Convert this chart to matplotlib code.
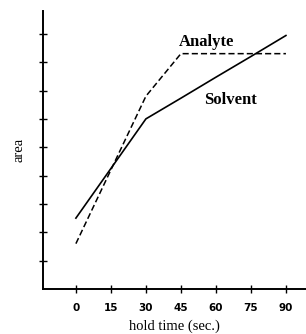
import matplotlib.pyplot as plt

# hold time (sec.)
hold_time = [0, 15, 30, 45, 60, 75, 90]
# peak area (arbitrary units)
analyte = [1.6, 4.2, 6.8, 8.3, 8.3, 8.3, 8.3]
solvent = [2.5, 4.25, 6.0, 6.73, 7.47, 8.2, 8.94]
y_ticks = [1, 2, 3, 4, 5, 6, 7, 8, 9]

plt.rcParams['font.family'] = ['Liberation Serif', 'DejaVu Serif']

fig = plt.figure(figsize=(3.06, 3.34), dpi=100)
ax = fig.add_axes([0.1405, 0.1347, 0.8595, 0.832])

ax.plot(hold_time, solvent, color='black', lw=1.2)
ax.plot(hold_time, analyte, color='black', lw=1.1, ls=(0, (4, 2)))

ax.text(44, 8.42, 'Analyte', fontsize=12, fontweight='bold', ha='left', va='bottom')
ax.text(55, 6.67, 'Solvent', fontsize=12, fontweight='bold', ha='left', va='center')

ax.set_xlim(-14.1, 98.6)
ax.set_ylim(0, 9.8)
ax.set_xticks(hold_time)
ax.set_xticklabels([str(t) for t in hold_time], fontsize=7.5, fontweight='bold',
                   family=['DejaVu Sans'])
ax.set_yticks(y_ticks)
ax.set_yticklabels([])
ax.tick_params(axis='both', direction='inout', length=6, width=1.0, color='black')
ax.tick_params(axis='x', pad=7)

for s in ['top', 'right']:
    ax.spines[s].set_visible(False)
for s in ['left', 'bottom']:
    ax.spines[s].set_linewidth(1.4)

ax.set_xlabel('hold time (sec.)', fontsize=10.5, labelpad=5)
ax.set_ylabel('area', fontsize=10.5, labelpad=6)

fig.savefig('out.png', dpi=100)
